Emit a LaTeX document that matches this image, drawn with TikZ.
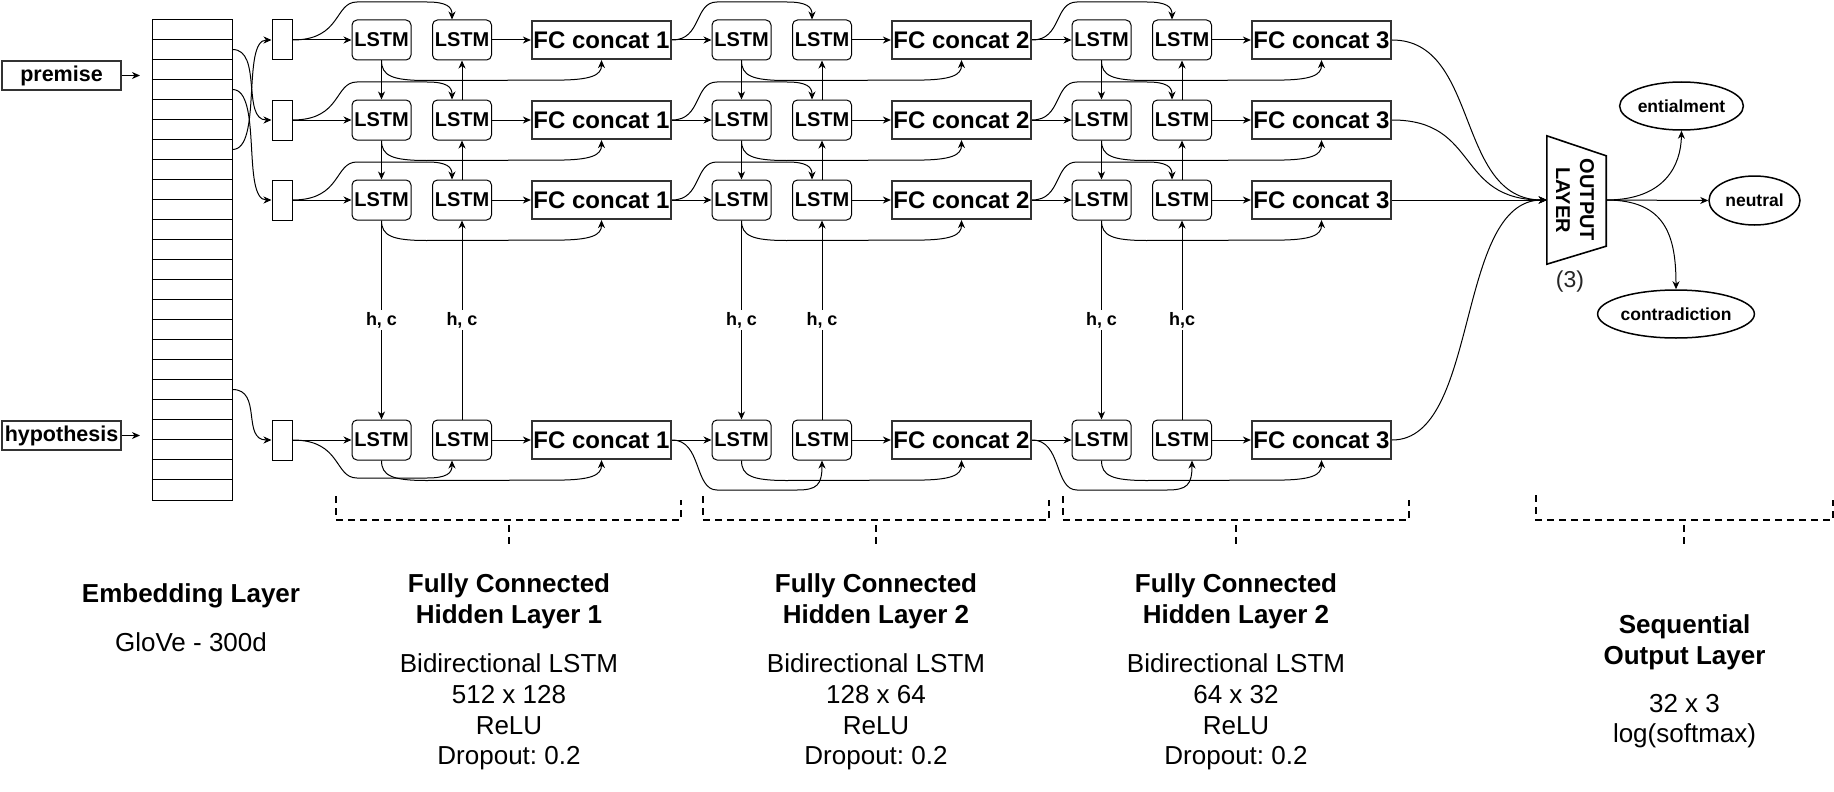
\documentclass[tikz,border=0pt]{standalone}
\usepackage{fontspec}
\setmainfont{Liberation Sans}
\usetikzlibrary{arrows.meta,calc,shapes.geometric}
\frenchspacing
\begin{document}
\begin{tikzpicture}[x=1pt,y=-1pt,
  conn/.style={draw, line width=1pt, -{Stealth[length=8pt,width=7pt,inset=2.5pt]}},
  lstm/.style={draw, line width=1pt, rounded corners=5pt, minimum width=59pt, minimum height=40pt, inner sep=0pt, font=\fontsize{20}{23}\selectfont\bfseries},
  fc/.style={draw=black!80, line width=2.2pt, minimum width=139pt, minimum height=38pt, inner sep=0pt, font=\fontsize{24}{28}\selectfont\bfseries},
  sbox/.style={draw, line width=1pt, minimum width=20pt, minimum height=40pt, inner sep=0pt},
  inbox/.style={draw=black!80, line width=2.2pt, minimum width=119pt, minimum height=29pt, inner sep=0pt, font=\fontsize{21.5}{25}\selectfont\bfseries},
  hc/.style={fill=white, inner sep=2pt, font=\fontsize{18}{21}\selectfont\bfseries},
  outel/.style={draw, ellipse, line width=1.5pt, inner sep=0pt, font=\fontsize{17.5}{21}\selectfont\bfseries},
  bracket/.style={draw, line width=2pt, dash pattern=on 7pt off 5pt},
  title/.style={align=center, inner sep=0pt, font=\fontsize{26}{31}\selectfont\bfseries},
  body/.style={align=center, inner sep=0pt, font=\fontsize{26}{30.7}\selectfont}]
\useasboundingbox (0,0) rectangle (1834,792);

% inputs
\node[inbox] (prem) at (61.5,75.5) {premise};
\node[inbox] (hyp) at (61.5,435.5) {hypothesis};
\coordinate (pa) at (140,75.5);
\coordinate (ha) at (140,435.5);
\draw[conn] (prem.east) -- (pa);
\draw[conn] (hyp.east) -- (ha);

% embedding table
\node[draw, line width=1pt, minimum width=80pt, minimum height=480pt, inner sep=0pt] (emb) at (192,260) {};
\foreach \k in {1,...,23}
  \draw[line width=1pt] ($(emb.north west)+(0,20*\k)$) -- ($(emb.north east)+(0,20*\k)$);

% nodes
\foreach \r/\y in {1/40,2/120,3/200,4/440} {
  \node[sbox] (sb-\r) at (282,\y) {};
  \foreach \g in {1,2,3} {
    \pgfmathsetmacro\dx{360*(\g-1)}
    \node[lstm] (La-\g-\r) at (381.5+\dx,\y) {LSTM};
    \node[lstm] (Lb-\g-\r) at (462+\dx,\y) {LSTM};
    \node[fc] (FC-\g-\r) at (601.5+\dx,\y) {FC concat \g};
  }
}

% table to small boxes
\draw[conn] ($(emb.north east)+(0,30)$) .. controls +(30,0) and +(-30,0) .. (sb-2.west);
\draw[conn] ($(emb.north east)+(0,70)$) .. controls +(30,0) and +(-30,0) .. (sb-3.west);
\draw[conn] ($(emb.north east)+(0,130)$) .. controls +(30,0) and +(-30,0) .. (sb-1.west);
\draw[conn] ($(emb.north east)+(0,370)$) .. controls +(30,0) and +(-30,0) .. (sb-4.west);

% group connectors
\foreach \g/\yb/\xo/\lab in {1/478/-10/{h, c},2/490/0/{h, c},3/490/10/{h,c}} {
  \pgfmathsetmacro\dx{360*(\g-1)}
  \pgfmathtruncatemacro\pg{\g-1}
  \foreach \r/\y in {1/40,2/120,3/200,4/440} {
    \ifnum\g=1 \edef\src{sb-\r}\else\edef\src{FC-\pg-\r}\fi
    \draw[conn] (\src.east) -- (La-\g-\r.west);
    \draw[conn] (Lb-\g-\r.east) -- (FC-\g-\r.west);
    \draw[conn] (La-\g-\r.south) .. controls +(0,15) and +(-35,0) .. ($(La-\g-\r.south)+(45,20)$)
       -- ($(FC-\g-\r.south)+(-45,20)$) .. controls +(35,0) and +(0,15) .. (FC-\g-\r.south);
    \ifnum\r<4
      \draw[conn] (\src.east) .. controls (342+\dx,\y) and (334+\dx,\y-38) .. (357+\dx,\y-38)
         -- (427+\dx,\y-38) .. controls (447+\dx,\y-38) and (452+\dx,\y-33) .. ([xshift=-10pt]Lb-\g-\r.north);
    \else
      \draw[conn] (\src.east) .. controls (342+\dx,\y) and (334+\dx,\yb) .. (357+\dx,\yb)
         -- (437+\dx+\xo,\yb) .. controls (457+\dx+\xo,\yb) and (462+\dx+\xo,\yb-5) .. ([xshift=\xo pt]Lb-\g-\r.south);
    \fi
    \ifnum\r<3
      \pgfmathtruncatemacro\rn{\r+1}
      \draw[conn] (La-\g-\r.south) -- (La-\g-\rn.north);
      \draw[conn] (Lb-\g-\rn.north) -- (Lb-\g-\r.south);
    \fi
  }
  \draw[conn] (La-\g-3.south) -- node[hc] {h, c} (La-\g-4.north);
  \draw[conn] (Lb-\g-4.north) -- node[hc] {\lab} (Lb-\g-3.south);
}

% output layer
\node[minimum width=59pt, minimum height=128pt, inner sep=0pt] (OL) at (1576.5,200) {};
\draw[line width=1.6pt, line join=miter] (OL.north west) -- ([yshift=-20pt]OL.north east) -- ([yshift=18pt]OL.south east) -- (OL.south west) -- cycle;
\node[rotate=-90, align=center, inner sep=0pt, font=\fontsize{20}{24}\selectfont\bfseries] (OLt) at (1575,200) {OUTPUT\\LAYER};
\node[inner sep=0pt, text=black!85, font=\fontsize{23}{27}\selectfont] (n3) at (1570,282) {(3)};

\draw[conn] (FC-3-1.east) .. controls (1480,40) and (1455,200) .. (OL.west);
\draw[conn] (FC-3-2.east) .. controls (1480,120) and (1455,200) .. (OL.west);
\draw[conn] (FC-3-3.east) -- (OL.west);
\draw[conn] (FC-3-4.east) .. controls (1480,440) and (1455,200) .. (OL.west);

\node[outel, minimum width=121pt, minimum height=48pt] (ent) at (1681.5,106) {entialment};
\node[outel, minimum width=91pt, minimum height=49pt] (neu) at (1754.5,200.5) {neutral};
\node[outel, minimum width=132pt, minimum height=48pt] (con) at (1676,314) {contradiction};
\draw[conn] (OL.east) .. controls (1665,200) and (1681,165) .. (ent.south);
\draw[conn] (OL.east) -- (neu.west);
\draw[conn] (OL.east) .. controls (1665,200) and (1676,235) .. (con.north);

% brackets
\draw[bracket] (336,496) -- (336,520) -- (681,520) -- (681,500);
\draw[bracket, dash phase=7pt] (509,520) -- (509,545);
\draw[bracket] (703,496) -- (703,520) -- (1049,520) -- (1049,500);
\draw[bracket, dash phase=7pt] (876,520) -- (876,545);
\draw[bracket] (1063,496) -- (1063,520) -- (1409,520) -- (1409,500);
\draw[bracket, dash phase=7pt] (1236,520) -- (1236,545);
\draw[bracket] (1536,495) -- (1536,520) -- (1832.5,520) -- (1832.5,500);
\draw[bracket, dash phase=7pt] (1684,520) -- (1684,545);

% captions
\node[title] (t0) at (191,596) {Embedding Layer};
\node[body] (b0) at (191,642) {GloVe - 300d};
\node[title] (t1) at (509,601) {Fully Connected\\Hidden Layer 1};
\node[body] (b1) at (509,712) {Bidirectional LSTM\\512 x 128\\ReLU\\Dropout: 0.2};
\node[title] (t2) at (876,601) {Fully Connected\\Hidden Layer 2};
\node[body] (b2) at (876,712) {Bidirectional LSTM\\128 x 64\\ReLU\\Dropout: 0.2};
\node[title] (t3) at (1236,601) {Fully Connected\\Hidden Layer 2};
\node[body] (b3) at (1236,712) {Bidirectional LSTM\\64 x 32\\ReLU\\Dropout: 0.2};
\node[title] (t4) at (1684.5,642) {Sequential\\Output Layer};
\node[body] (b4) at (1684.5,721) {32 x 3\\log(softmax)};
\end{tikzpicture}
\end{document}
